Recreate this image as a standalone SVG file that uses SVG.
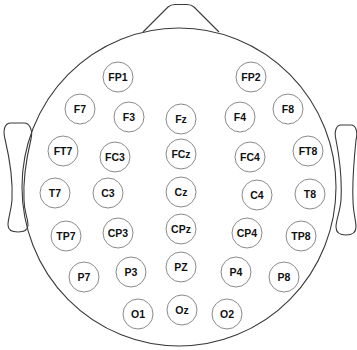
<svg xmlns="http://www.w3.org/2000/svg" width="357" height="350" viewBox="0 0 357 350">
<style>
.head{fill:none;stroke:#3a3a3a;stroke-width:1.1}
.el circle{fill:#fff;stroke:#8a8a8a;stroke-width:1}
.el text{font-family:"Liberation Sans",Arial,sans-serif;font-weight:bold;font-size:10.5px;fill:#111;text-anchor:middle}
</style>
<rect width="357" height="350" fill="#fff"/>
<g id="head">
<path class="head" d="M143,32 L168,7 Q171,4.5 175,4.5 L187,4.5 Q191,4.5 194,7 L219,32"/>
<ellipse class="head" cx="179" cy="187" rx="157" ry="159"/>
<path class="head" d="M11,123 C4,123 3,131 5,139 C10,160 13,180 12,200 C11,212 8,218 8,225 C8,230 12,232 18,232 C24,232 28,230 28,225 C28,218 24,212 24,200 C23,180 26,160 31,139 C33,131 30,123 24,123 Z"/>
<path class="head" d="M341,125 C336,125 334,132 336,140 C340,160 342,180 341,200 C340,212 336,220 336,227 C336,233 340,235 346,235 C352,235 356,233 356,227 C356,220 353,212 353,200 C352,180 354,160 356,140 C358,132 356,125 351,125 Z"/>
</g>
<g id="connectors"></g>
<g id="FP1" class="el"><circle cx="118" cy="77" r="15"/><text x="118" y="80.8">FP1</text></g>
<g id="FP2" class="el"><circle cx="251" cy="77" r="15"/><text x="251" y="80.8">FP2</text></g>
<g id="F7" class="el"><circle cx="80" cy="109" r="15"/><text x="80" y="112.8">F7</text></g>
<g id="F3" class="el"><circle cx="129" cy="117" r="15"/><text x="129" y="120.8">F3</text></g>
<g id="Fz" class="el"><circle cx="181" cy="119" r="15"/><text x="181" y="122.8">Fz</text></g>
<g id="F4" class="el"><circle cx="240" cy="117" r="15"/><text x="240" y="120.8">F4</text></g>
<g id="F8" class="el"><circle cx="288" cy="109" r="15"/><text x="288" y="112.8">F8</text></g>
<g id="FT7" class="el"><circle cx="63" cy="151" r="15"/><text x="63" y="154.8">FT7</text></g>
<g id="FC3" class="el"><circle cx="115" cy="157" r="15"/><text x="115" y="160.8">FC3</text></g>
<g id="FCz" class="el"><circle cx="181" cy="154" r="15"/><text x="181" y="157.8">FCz</text></g>
<g id="FC4" class="el"><circle cx="250" cy="157" r="15"/><text x="250" y="160.8">FC4</text></g>
<g id="FT8" class="el"><circle cx="308" cy="151" r="15"/><text x="308" y="154.8">FT8</text></g>
<g id="T7" class="el"><circle cx="55" cy="193" r="15"/><text x="55" y="196.8">T7</text></g>
<g id="C3" class="el"><circle cx="108" cy="193" r="15"/><text x="108" y="196.8">C3</text></g>
<g id="Cz" class="el"><circle cx="181" cy="192" r="15"/><text x="181" y="195.8">Cz</text></g>
<g id="C4" class="el"><circle cx="257" cy="195" r="15"/><text x="257" y="198.8">C4</text></g>
<g id="T8" class="el"><circle cx="310" cy="194" r="15"/><text x="310" y="197.8">T8</text></g>
<g id="TP7" class="el"><circle cx="66" cy="236" r="15"/><text x="66" y="239.8">TP7</text></g>
<g id="CP3" class="el"><circle cx="118" cy="233" r="15"/><text x="118" y="236.8">CP3</text></g>
<g id="CPz" class="el"><circle cx="181" cy="229" r="15"/><text x="181" y="232.8">CPz</text></g>
<g id="CP4" class="el"><circle cx="247" cy="233" r="15"/><text x="247" y="236.8">CP4</text></g>
<g id="TP8" class="el"><circle cx="301" cy="236" r="15"/><text x="301" y="239.8">TP8</text></g>
<g id="P7" class="el"><circle cx="84" cy="277" r="15"/><text x="84" y="280.8">P7</text></g>
<g id="P3" class="el"><circle cx="131" cy="272" r="15"/><text x="131" y="275.8">P3</text></g>
<g id="PZ" class="el"><circle cx="181" cy="267" r="15"/><text x="181" y="270.8">PZ</text></g>
<g id="P4" class="el"><circle cx="236" cy="272" r="15"/><text x="236" y="275.8">P4</text></g>
<g id="P8" class="el"><circle cx="284" cy="277" r="15"/><text x="284" y="280.8">P8</text></g>
<g id="O1" class="el"><circle cx="138" cy="314" r="15"/><text x="138" y="317.8">O1</text></g>
<g id="Oz" class="el"><circle cx="182" cy="310" r="15"/><text x="182" y="313.8">Oz</text></g>
<g id="O2" class="el"><circle cx="227" cy="314" r="15"/><text x="227" y="317.8">O2</text></g>
</svg>
